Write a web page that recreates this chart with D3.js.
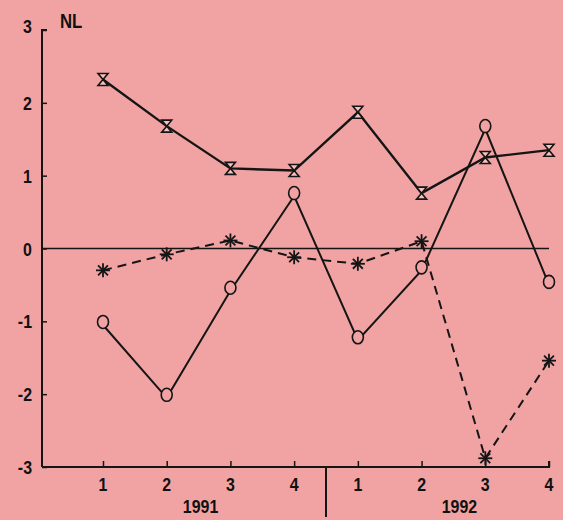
<!DOCTYPE html>
<html><head><meta charset="utf-8">
<script src="https://cdn.jsdelivr.net/npm/d3@7"></script>
<style>
body{margin:0;background:#f1a3a3;}
svg{display:block;}
text{font-family:"Liberation Sans",Arial,sans-serif;fill:#111;font-weight:bold;}
</style></head>
<body>
<script>
const quarters = ["1","2","3","4","1","2","3","4"];
const years = ["1991","1992"];
const yTicks = [-3,-2,-1,0,1,2,3];
const hourglassSeries = [2.32,1.68,1.10,1.07,1.87,0.76,1.25,1.35];
const circleSeries = [-1.05,-2.05,-0.58,0.72,-1.26,-0.30,1.64,-0.50];
const starSeries = [-0.30,-0.08,0.11,-0.12,-0.21,0.10,-2.88,-1.54];

const W=563,H=520;
const svg=d3.select("body").append("svg").attr("width",W).attr("height",H);
svg.append("rect").attr("width",W).attr("height",H).attr("fill","#f1a3a3");

const x=d3.scaleLinear().domain([0,7]).range([103,549]);
const y=d3.scaleLinear().domain([-3,3]).range([467,30]);
const ink="#151515";
const FS=19, SX=0.84;
function label(g,tx,ty,anchor,txt,fs){
  return g.append("text").attr("transform",`translate(${tx},${ty}) scale(${SX},1)`)
    .attr("text-anchor",anchor).attr("font-size",fs||FS).text(txt);
}

// y axis
const yAx=svg.append("g").attr("transform","translate(42,0)")
  .call(d3.axisRight(y).tickValues(yTicks).tickSize(5).tickFormat(""));
yAx.select(".domain").attr("stroke",ink).attr("stroke-width",2).attr("d",`M5,${y(3)}H0V${y(-3)}`);
yAx.selectAll(".tick line").attr("stroke",ink).attr("stroke-width",1.5);
const yl=svg.append("g");
yTicks.forEach(d=>label(yl,32,y(d)+(d===3?-4:0)+7,"end",d));
label(svg,60,28,"start","NL",20);

// x axis
const xAx=svg.append("g").attr("transform",`translate(0,${y(-3)})`)
  .call(d3.axisTop(x).tickValues(d3.range(8)).tickSize(6).tickFormat(""));
xAx.select(".domain").attr("stroke",ink).attr("stroke-width",2).attr("d",`M42,0H${x(7)}V-6`);
xAx.selectAll(".tick line").attr("stroke",ink).attr("stroke-width",1.5);
const xl=svg.append("g");
quarters.forEach((d,i)=>label(xl,x(i),491,"middle",d));
years.forEach((d,i)=>label(xl,i===0?x(1.5)+2:x(5.5)+6,513,"middle",d));
svg.append("line").attr("x1",(x(3)+x(4))/2).attr("x2",(x(3)+x(4))/2)
  .attr("y1",y(-3)).attr("y2",517).attr("stroke",ink).attr("stroke-width",2);

// zero line
svg.append("line").attr("x1",42).attr("x2",x(7)).attr("y1",y(0)).attr("y2",y(0))
  .attr("stroke",ink).attr("stroke-width",1.6);

const line=d3.line().x((d,i)=>x(i)).y(d=>y(d));
svg.append("path").datum(hourglassSeries).attr("d",line).attr("fill","none").attr("stroke",ink).attr("stroke-width",2.4);
svg.append("path").datum(circleSeries).attr("d",line).attr("fill","none").attr("stroke",ink).attr("stroke-width",2);
svg.append("path").datum(starSeries).attr("d",line).attr("fill","none").attr("stroke",ink).attr("stroke-width",2).attr("stroke-dasharray","9,6");

// markers
svg.append("g").selectAll("path").data(hourglassSeries).join("path")
  .attr("transform",(d,i)=>`translate(${x(i)},${y(d)})`)
  .attr("d","M-5,-6H5L-5,6H5Z").attr("fill","#f6c2c0").attr("stroke",ink).attr("stroke-width",1.6);
svg.append("g").selectAll("ellipse").data(circleSeries).join("ellipse")
  .attr("cx",(d,i)=>x(i)).attr("cy",d=>y(d)-3).attr("rx",5.5).attr("ry",6.5)
  .attr("fill","#f1a3a3").attr("stroke",ink).attr("stroke-width",1.6);
const star=svg.append("g").selectAll("g").data(starSeries).join("g")
  .attr("transform",(d,i)=>`translate(${x(i)},${y(d)})`);
[0,45,90,135].forEach(a=>{
  star.append("line").attr("x1",-7).attr("x2",7).attr("y1",0).attr("y2",0)
    .attr("transform",`rotate(${a})`).attr("stroke",ink).attr("stroke-width",1.8);
});
</script>
</body></html>
